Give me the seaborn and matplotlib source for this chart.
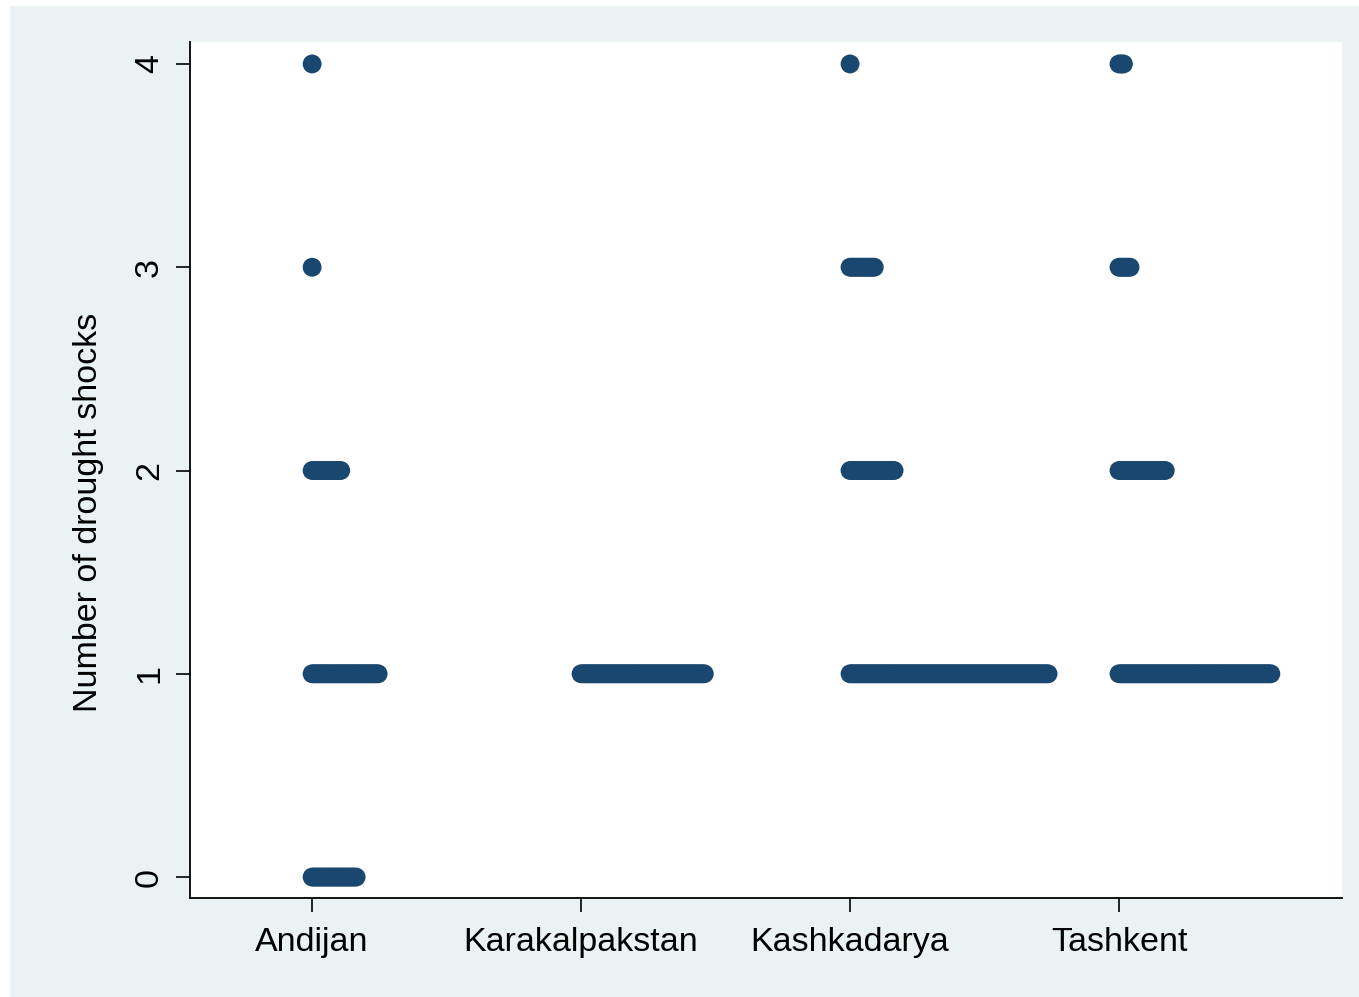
import numpy as np
import pandas as pd
import matplotlib
matplotlib.use("Agg")
import matplotlib.pyplot as plt
import seaborn as sns

# Regions and the number of households reporting each count of drought shocks
regions = ["Andijan", "Karakalpakstan", "Kashkadarya", "Tashkent"]
shock_levels = [0, 1, 2, 3, 4]
counts_andijan = [21, 31, 14, 1, 1]
counts_karakalpakstan = [0, 57, 0, 0, 0]
counts_kashkadarya = [0, 91, 21, 12, 1]
counts_tashkent = [0, 70, 22, 6, 3]
y_ticks = [0, 1, 2, 3, 4]

counts_by_region = [counts_andijan, counts_karakalpakstan,
                    counts_kashkadarya, counts_tashkent]

# Dot plot: observations with equal value are stacked to the right of the group
step = 0.00818
rows = []
for gi, (region, counts) in enumerate(zip(regions, counts_by_region)):
    for level, n in zip(shock_levels, counts):
        for k in range(n):
            rows.append({"region": region, "pos": gi + k * step, "shocks": level})
df = pd.DataFrame(rows)

sns.set_theme(style="white")
plt.rcParams["font.family"] = ["Liberation Sans", "DejaVu Sans"]

fig = plt.figure(figsize=(13.59, 9.97), dpi=100, facecolor="white")

# Light graph-region background
bg = fig.add_axes([10 / 1359, 0, 1 - 10 / 1359, 1 - 6 / 997], zorder=-5)
bg.set_facecolor("#EAF2F3")
bg.set_xticks([])
bg.set_yticks([])
for s in bg.spines.values():
    s.set_visible(False)

ax = fig.add_axes([190 / 1359, 99 / 997, (1342 - 190) / 1359, (898 - 42) / 997],
                  zorder=1)
ax.set_facecolor("white")

sns.scatterplot(data=df, x="pos", y="shocks", ax=ax, color="#1A476F",
                s=185, edgecolor="none", linewidth=0, legend=False)

ax.set_xlim(-0.454, 3.829)
ax.set_ylim(-0.103, 4.108)
ax.set_xticks(range(len(regions)))
ax.set_xticklabels(regions, fontsize=24.5, color="black")
ax.set_yticks(y_ticks)
ax.set_yticklabels([str(v) for v in y_ticks], fontsize=24.5, color="black",
                   rotation=90, va="center")
ax.set_xlabel("")
ylab = ax.set_ylabel("Number of drought shocks", fontsize=24.5, color="black")
ylab.set_va("center")
ax.yaxis.set_label_coords(-0.0885, 0.45)

for side in ["top", "right"]:
    ax.spines[side].set_visible(False)
for side in ["left", "bottom"]:
    ax.spines[side].set_color("black")
    ax.spines[side].set_linewidth(1.3)
ax.tick_params(axis="y", which="major", direction="out", length=10,
               width=1.2, color="black", left=True, pad=8)
ax.tick_params(axis="x", which="major", direction="out", length=10,
               width=1.2, color="black", bottom=True, pad=11)

fig.savefig("out.png", dpi=100, facecolor=fig.get_facecolor())
